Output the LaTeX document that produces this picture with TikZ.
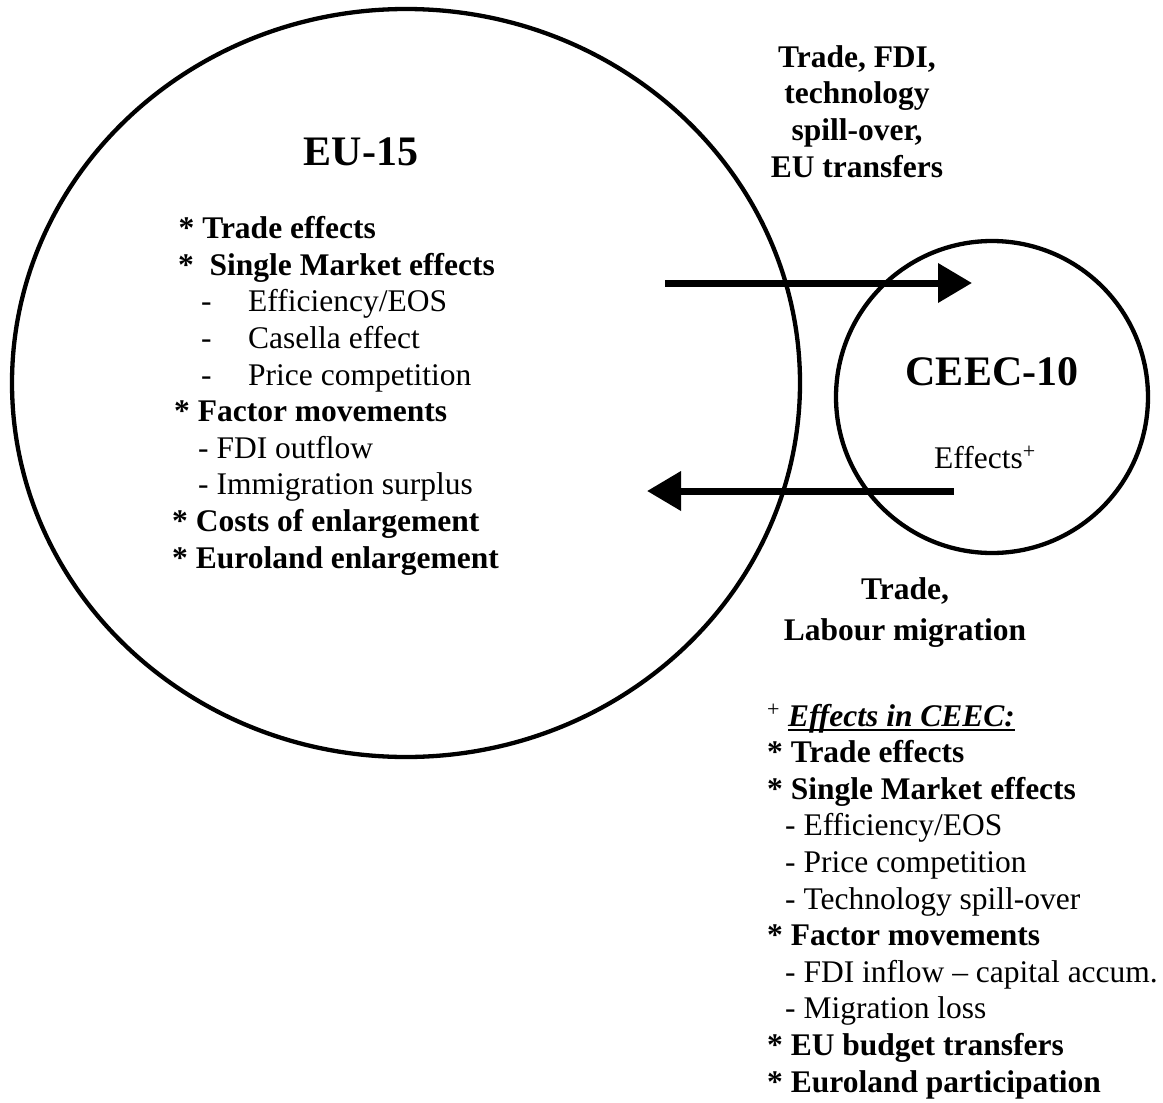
\documentclass[tikz,border=0pt]{standalone}
\usepackage{fontspec}
\setmainfont{Liberation Serif}
\usepackage{tikz}
\usetikzlibrary{arrows.meta,shapes.geometric}
\def\TextSize{\fontsize{31.5}{36.6}\selectfont}
\def\HeadSize{\fontsize{42}{48}\selectfont}
\newcommand{\heavyunder}[1]{\setbox0=\hbox{#1}\rlap{\rule[-4.5pt]{\wd0}{1.8pt}}\box0}

\begin{document}
\begin{tikzpicture}[x=1pt,y=-1pt,
		ring/.style={draw,line width=4.3pt,inner sep=0pt},
		flow/.style={line width=7pt,-{Triangle[length=34pt,width=38pt]}},
		itemtext/.style={align=left,inner sep=0pt,anchor=base west,font=\TextSize},
		flowtext/.style={align=center,inner sep=0pt,anchor=base,font=\TextSize\bfseries}]
	\useasboundingbox (0,0) rectangle (1163,1103);
	% the two regions
	\node[ring,ellipse,minimum width=788pt,minimum height=748pt] (eu) at (406,383) {};
	\node[ring,circle,minimum size=312pt] (ceec) at (992,397) {};
	\node[anchor=base,inner sep=0pt,font=\HeadSize\bfseries] (eutitle) at (361,165) {EU-15};
	\node[anchor=base,inner sep=0pt,font=\HeadSize\bfseries] (ceectitle) at (992,385) {CEEC-10};
	\node[itemtext] (ceeceff) at (934,468) {Effects\textsuperscript{+}};
	% lists are placed by the baseline of their last line
	\node[itemtext] (eulist) at (172,568) {%
		\hspace*{6.5pt}\textbf{* Trade effects}\\
		\hspace*{6pt}\textbf{*\ \ Single Market effects}\\
		\hspace*{29pt}\makebox[47pt][l]{-}Efficiency/EOS\\
		\hspace*{29pt}\makebox[47pt][l]{-}Casella effect\\
		\hspace*{29pt}\makebox[47pt][l]{-}Price competition\\
		\hspace*{2pt}\textbf{* Factor movements}\\
		\hspace*{26pt}- FDI outflow\\
		\hspace*{26pt}- Immigration surplus\\
		\textbf{* Costs of enlargement}\\
		\textbf{* Euroland enlargement}};
	\node[itemtext] (ceeclist) at (767,1092) {%
		\textsuperscript{+} \heavyunder{\textbf{\textit{Effects in CEEC:}}}\\
		\textbf{* Trade effects}\\
		\textbf{* Single Market effects}\\
		\hspace*{18pt}- Efficiency/EOS\\
		\hspace*{18pt}- Price competition\\
		\hspace*{18pt}- Technology spill-over\\
		\textbf{* Factor movements}\\
		\hspace*{18pt}- FDI inflow -- capital accum.\\
		\hspace*{18pt}- Migration loss\\
		\textbf{* EU budget transfers}\\
		\textbf{* Euroland participation}};
	% flows between EU-15 and CEEC-10
	\coordinate (euout) at (665,283);
	\coordinate (ceecin) at (972,283);
	\coordinate (ceecout) at (954,491);
	\coordinate (euin) at (647,491);
	\draw[flow] (euout) -- (ceecin);
	\draw[flow] (ceecout) -- (euin);
	\node[flowtext] (toplabel) at (857,177) {Trade, FDI,\\technology\\spill-over,\\EU transfers};
	\node[flowtext] (botlabel) at (905,640) {Trade,\\[3.5pt]Labour migration};
\end{tikzpicture}
\end{document}
